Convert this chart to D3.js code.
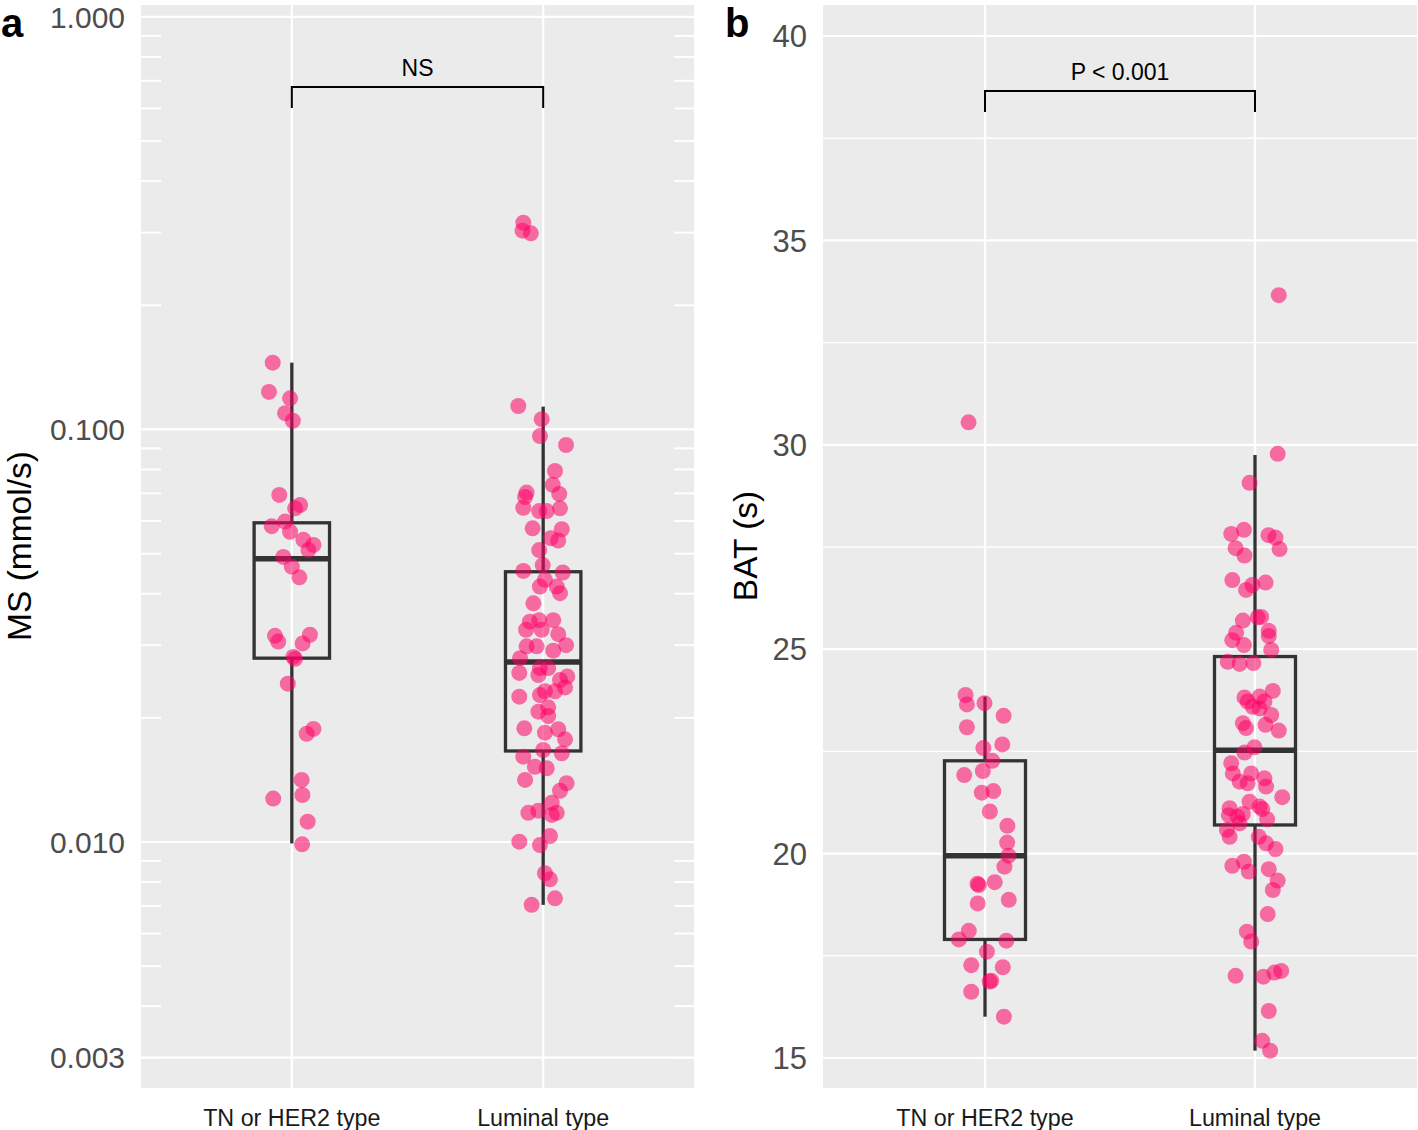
<!DOCTYPE html>
<html><head><meta charset="utf-8">
<script src="https://cdn.jsdelivr.net/npm/d3@7"></script>
<style>body{margin:0;background:#fff}svg{display:block}</style>
</head><body>
<svg id="chart" width="1418" height="1130"></svg>
<script>
const categories = ["TN or HER2 type", "Luminal type"];
const msTicks = [1.000, 0.100, 0.010, 0.003];
const msTickLabels = ["1.000", "0.100", "0.010", "0.003"];
const batTicks = [15, 20, 25, 30, 35, 40];
const batMinor = [17.5, 22.5, 27.5, 32.5, 37.5];

// MS (mmol/s) – TN or HER2 type
const msTN = [0.1452,0.1233,0.1190,0.1095,0.1050,0.0694,0.0656,0.0644,0.0583,0.0598,0.0565,0.0540,0.0525,0.0510,0.0491,0.0465,0.0438,0.0316,0.0306,0.0318,0.0303,0.0281,0.0278,0.0242,0.0183,0.0188,0.01414,0.01274,0.01300,0.01120,0.00987];
const msTNJit = [-0.076,-0.091,-0.007,-0.027,0.004,-0.050,0.033,0.013,-0.080,-0.027,-0.007,0.046,0.086,0.066,-0.034,0.000,0.030,-0.067,-0.054,0.072,0.043,0.006,0.013,-0.016,0.059,0.086,0.039,-0.074,0.042,0.063,0.041];
// MS – Luminal type
const msLum = [0.3171,0.3033,0.2989,0.1140,0.1059,0.0964,0.0917,0.0793,0.0703,0.0686,0.0734,0.0698,0.0646,0.0634,0.0634,0.0644,0.0576,0.0573,0.0545,0.0538,0.0510,0.0469,0.0454,0.0450,0.0432,0.0416,0.0416,0.0401,0.0379,0.0345,0.0345,0.0342,0.0327,0.0327,0.0319,0.0300,0.0298,0.0298,0.0291,0.0279,0.0264,0.0264,0.0257,0.0254,0.0247,0.0252,0.0237,0.0232,0.0232,0.0227,0.0225,0.0212,0.0207,0.0202,0.01886,0.01841,0.01876,0.01774,0.01610,0.01671,0.01641,0.01522,0.01509,0.01414,0.01388,0.01331,0.01245,0.01177,0.01191,0.01163,0.01177,0.01034,0.01002,0.00983,0.00840,0.00812,0.00730,0.00704];
const msLumJit = [-0.079,-0.082,-0.049,-0.099,-0.006,-0.013,0.091,0.047,-0.066,-0.072,0.038,0.064,-0.079,-0.016,0.014,0.067,-0.042,0.074,0.030,0.060,-0.016,-0.002,-0.079,0.078,0.007,-0.013,0.054,0.067,-0.039,-0.016,0.040,-0.053,-0.068,-0.006,0.060,0.091,-0.066,-0.026,0.040,-0.092,-0.013,0.020,-0.095,-0.019,0.067,0.096,0.087,0.047,0.007,-0.013,-0.095,0.020,-0.019,0.020,-0.075,0.007,0.060,0.087,-0.079,0.000,0.074,-0.033,0.014,-0.072,0.093,0.067,0.034,-0.059,-0.019,0.034,0.054,0.027,-0.095,-0.013,0.007,0.027,0.047,-0.046];

// BAT (s) – TN or HER2 type
const batTN = [30.55,23.88,23.65,23.68,23.37,23.09,22.58,22.67,22.27,21.92,22.02,21.49,21.53,21.03,20.68,20.27,19.95,19.68,19.23,19.26,19.30,18.78,18.87,18.11,17.90,17.87,17.60,17.27,17.22,16.89,16.87,16.62,16.01];
const batTNJit = [-0.061,-0.072,-0.067,-0.002,0.069,-0.067,-0.006,0.064,0.027,-0.077,-0.008,-0.012,0.031,0.018,0.083,0.082,0.087,0.072,-0.023,-0.028,0.036,-0.027,0.088,-0.060,-0.097,0.079,0.007,-0.051,0.066,0.023,0.017,-0.051,0.070];
// BAT – Luminal type
const batLum = [33.66,29.78,29.07,27.82,27.92,27.47,27.29,27.79,27.73,27.45,26.69,26.45,26.57,26.63,25.70,25.78,25.79,25.40,25.22,25.45,25.32,25.10,24.98,24.69,24.64,24.66,23.98,23.82,23.84,23.72,23.59,23.55,23.72,23.39,23.19,23.07,23.15,23.01,22.60,22.47,22.21,21.96,21.96,21.84,21.76,21.72,21.64,21.38,21.27,21.15,21.11,20.94,20.97,20.84,20.74,20.58,20.41,20.41,20.25,20.11,19.70,19.80,19.56,19.62,19.34,19.11,18.52,18.09,17.85,17.01,16.99,17.09,17.13,16.15,15.42,15.18,21.09,20.90];
const batLumJit = [0.088,0.084,-0.020,-0.088,-0.041,-0.072,-0.039,0.050,0.076,0.091,-0.084,-0.033,-0.010,0.039,-0.045,0.010,0.023,-0.070,-0.084,0.051,0.051,-0.041,0.060,-0.101,-0.057,-0.006,0.066,-0.039,0.017,0.035,-0.008,0.017,-0.027,0.060,-0.045,-0.033,0.039,0.088,-0.002,-0.039,-0.088,-0.014,-0.082,0.035,-0.057,-0.027,0.041,0.101,-0.020,0.017,-0.094,-0.097,-0.045,0.045,-0.057,-0.104,-0.094,0.014,0.041,0.076,-0.084,-0.041,-0.023,0.051,0.084,0.066,0.047,-0.030,-0.014,-0.072,0.031,0.072,0.097,0.051,0.027,0.056,0.027,-0.065];

// box stats: [lower whisker, Q1, median, Q3, upper whisker]
const msBoxTN = [0.00992, 0.0279, 0.0486, 0.0594, 0.1452];
const msBoxLum = [0.00704, 0.01662, 0.0273, 0.0452, 0.1136];
const batBoxTN = [16.01, 17.90, 19.95, 22.27, 23.84];
const batBoxLum = [15.18, 20.70, 22.53, 24.82, 29.75];

const msLabel = "NS";
const batLabel = "P < 0.001";

const svg = d3.select("#chart");
const FONT = "'Liberation Sans', Arial, Helvetica, sans-serif";
const PANEL_TOP = 5, PANEL_BOTTOM = 1088;

function drawPanel(o) {
  const g = svg.append("g");
  const x = d3.scaleLinear().domain([0.4, 2.6]).range([o.x0, o.x1]);
  const y = o.y;
  g.append("rect").attr("x", o.x0).attr("y", PANEL_TOP).attr("width", o.x1 - o.x0)
    .attr("height", PANEL_BOTTOM - PANEL_TOP).attr("fill", "#EBEBEB");
  (o.minor || []).forEach(v => {
    g.append("line").attr("x1", o.x0).attr("x2", o.x1).attr("y1", y(v)).attr("y2", y(v))
      .attr("stroke", "#fff").attr("stroke-width", 1.4);
  });
  o.ticks.forEach(v => {
    g.append("line").attr("x1", o.x0).attr("x2", o.x1).attr("y1", y(v)).attr("y2", y(v))
      .attr("stroke", "#fff").attr("stroke-width", 2.2);
  });
  [1, 2].forEach(c => {
    g.append("line").attr("x1", x(c)).attr("x2", x(c)).attr("y1", PANEL_TOP).attr("y2", PANEL_BOTTOM)
      .attr("stroke", "#fff").attr("stroke-width", 2.2);
  });
  (o.logTicks || []).forEach(v => {
    [[o.x0, o.x0 + 20], [o.x1 - 20, o.x1]].forEach(([a, b]) => {
      g.append("line").attr("x1", a).attr("x2", b).attr("y1", y(v)).attr("y2", y(v))
        .attr("stroke", "#fff").attr("stroke-width", 2);
    });
  });
  o.boxes.forEach((b, i) => {
    const c = i + 1, hw = 0.15;
    const col = "#333333";
    g.append("line").attr("x1", x(c)).attr("x2", x(c)).attr("y1", y(b[4])).attr("y2", y(b[3]))
      .attr("stroke", col).attr("stroke-width", 3.3);
    g.append("line").attr("x1", x(c)).attr("x2", x(c)).attr("y1", y(b[1])).attr("y2", y(b[0]))
      .attr("stroke", col).attr("stroke-width", 3.3);
    g.append("rect").attr("x", x(c - hw)).attr("y", y(b[3])).attr("width", x(c + hw) - x(c - hw))
      .attr("height", y(b[1]) - y(b[3])).attr("fill", "none").attr("stroke", col).attr("stroke-width", 3.3);
    g.append("line").attr("x1", x(c - hw)).attr("x2", x(c + hw)).attr("y1", y(b[2])).attr("y2", y(b[2]))
      .attr("stroke", col).attr("stroke-width", 5.5);
  });
  o.groups.forEach((grp, i) => {
    const c = i + 1;
    g.selectAll(null).data(grp.v).enter().append("circle")
      .attr("cx", (d, k) => x(c + grp.j[k])).attr("cy", d => y(d)).attr("r", 8)
      .attr("fill", "#FF0066").attr("fill-opacity", 0.55);
  });
  o.ticks.forEach((v, k) => {
    g.append("text").attr("x", o.x0 - 16).attr("y", y(v)).attr("dy", "0.36em")
      .attr("text-anchor", "end").attr("font-family", FONT).attr("font-size", o.tickSize)
      .attr("fill", "#4D4D4D").text(o.tickLabels[k]);
  });
  categories.forEach((t, i) => {
    g.append("text").attr("x", x(i + 1)).attr("y", 1126).attr("text-anchor", "middle")
      .attr("font-family", FONT).attr("font-size", 23.3).attr("fill", "#1a1a1a").text(t);
  });
  g.append("text").attr("transform", `translate(${o.titleX},546) rotate(-90)`)
    .attr("text-anchor", "middle").attr("font-family", FONT).attr("font-size", 33.5)
    .attr("fill", "#000").text(o.title);
  g.append("text").attr("x", o.letterX).attr("y", 36.5).attr("font-family", FONT)
    .attr("font-weight", "bold").attr("font-size", 40).attr("fill", "#000").text(o.letter);
  const by = o.bracketY;
  g.append("path").attr("d", `M${x(1)},${by + 21}V${by}H${x(2)}V${by + 21}`)
    .attr("fill", "none").attr("stroke", "#000").attr("stroke-width", 2);
  g.append("text").attr("x", (x(1) + x(2)) / 2).attr("y", by - 11).attr("text-anchor", "middle")
    .attr("font-family", FONT).attr("font-size", 23).attr("fill", "#000").text(o.sig);
}

const yA = d3.scaleLog().domain([1.069, 0.002533]).range([PANEL_TOP, PANEL_BOTTOM]);
const logTicks = [];
[-3, -2, -1].forEach(k => { for (let m = 2; m <= 9; m++) { const v = m * Math.pow(10, k); if (v > 0.0026) logTicks.push(v); } });
drawPanel({
  x0: 141, x1: 694, y: yA, ticks: msTicks, tickLabels: msTickLabels, logTicks: logTicks, tickSize: 30,
  boxes: [msBoxTN, msBoxLum],
  groups: [{ v: msTN, j: msTNJit }, { v: msLum, j: msLumJit }],
  title: "MS (mmol/s)", titleX: 31, letter: "a", letterX: 1, bracketY: 87, sig: msLabel
});

const yB = d3.scaleLinear().domain([14.266, 40.758]).range([PANEL_BOTTOM, PANEL_TOP]);
drawPanel({
  x0: 823, x1: 1417, y: yB, ticks: batTicks, tickLabels: batTicks.map(String), minor: batMinor, tickSize: 31,
  boxes: [batBoxTN, batBoxLum],
  groups: [{ v: batTN, j: batTNJit }, { v: batLum, j: batLumJit }],
  title: "BAT (s)", titleX: 757, letter: "b", letterX: 725, bracketY: 91, sig: batLabel
});
</script>
</body></html>
